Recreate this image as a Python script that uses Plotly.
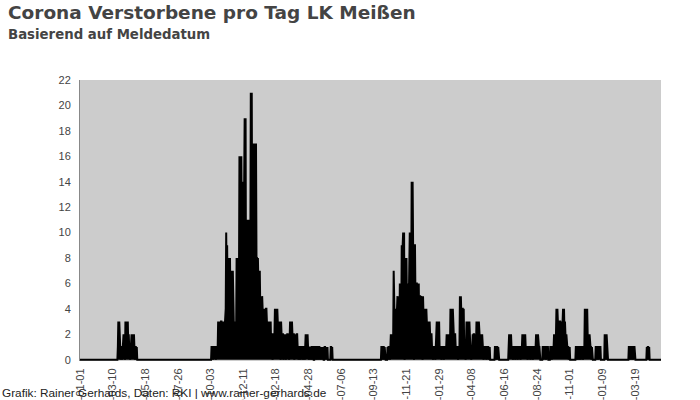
import pandas as pd
import plotly.graph_objects as go

# ---------------- data (daily deaths) ----------------
range_start = "2020-01-01"
range_end = "2023-05-13"

wave_spring2020_start = "2020-03-21"
wave_spring2020 = [1, 3, 2, 3, 1, 1, 0,
                   1, 1, 0, 1, 1, 2, 1, 1, 0,
                   3, 1, 3, 2, 1, 3, 1, 2, 1,
                   1, 0, 1, 1,
                   2, 1, 2, 1, 1, 2, 1,
                   0, 1, 1, 0, 1]

wave_winter2020_start = "2020-10-05"
wave_winter2020 = [1, 1, 1, 0, 1, 1, 1, 1, 1, 0, 1, 1, 1, 1,
                   3, 2, 3, 1, 3, 2, 3, 3, 2, 3, 1, 3, 3, 2, 3, 3,
                   4, 10, 6, 9, 5,
                   8, 5, 8, 6, 8, 4,
                   7, 5, 7, 6, 7, 3,
                   2, 1, 2, 1, 3, 2,
                   8, 5, 8, 3, 8, 6,
                   16, 9, 14, 6, 16, 10,
                   14, 8, 14, 11, 14,
                   19, 6, 19, 2, 11,
                   11, 2, 9, 11, 5, 11, 3, 8,
                   21, 13, 21, 7, 17, 10,
                   17, 8, 17, 6, 14, 17, 8,
                   8, 5, 8, 6,
                   7, 1, 7, 4,
                   5, 2, 1, 5, 3,
                   4, 2, 4, 3, 4, 1, 4, 4,
                   3, 2, 3, 1, 3, 2, 3,
                   2, 3, 1, 2, 2, 0, 2, 1, 2, 2,
                   4, 2, 4, 3, 1, 4, 2,
                   3, 1, 3, 2, 3, 0, 3,
                   2, 1, 2, 2, 0, 1, 2, 1, 2, 0, 2, 1, 2, 2, 1, 2, 0, 2,
                   3, 1, 3, 2, 3,
                   2, 1, 2, 2, 0, 2, 1, 2, 1, 2, 2,
                   1, 1, 0, 1, 1, 1, 0, 1, 1, 1, 1, 0, 1, 1, 1, 0, 1,
                   2, 1, 2, 1, 2, 1,
                   1, 0, 1, 1, 0, 1, 1, 1, 0, 1, 1, 0, 0, 1, 1, 0, 1, 1, 1, 0, 1,
                   0, 1, 1, 0, 1, 1, 0, 1, 0, 1, 1, 0, 0, 1, 1, 0, 1, 0, 1, 1, 0,
                   0, 0, 0, 0, 0,
                   1, 1, 0, 1, 0, 0]

wave_autumn2021_start = "2021-09-29"
wave_autumn2021 = [1, 1, 0, 1, 1, 1, 0, 1,
                   0, 0, 0, 0, 0,
                   1, 0, 1, 1, 1, 0, 1,
                   2, 1, 2, 1, 2,
                   2, 7, 4, 3, 4,
                   3, 4, 2, 4,
                   5, 3, 5, 4, 2,
                   6, 4, 6, 3,
                   9, 5, 9,
                   10, 6, 10, 0, 8,
                   8, 5, 8, 4, 6,
                   6, 2, 6, 4,
                   10, 6, 10, 5,
                   14, 9, 14, 6, 9, 0, 9,
                   9, 5, 6, 6,
                   6, 3, 6, 5, 6, 2, 5,
                   5, 3, 5, 4, 5, 0, 5,
                   4, 2, 4, 3, 4, 1, 4,
                   3, 2, 3, 1, 3, 2, 3,
                   2, 1, 2, 2,
                   1, 1, 0, 1, 1, 1, 1, 0, 1, 1,
                   3, 1, 3, 2, 1, 3, 1,
                   1, 1, 1, 0, 1, 1, 1, 1, 0, 1, 1, 1, 1, 1,
                   2, 1, 2, 1, 2, 1, 2, 1,
                   4, 2, 4, 1, 2, 4, 2,
                   2, 1, 2, 2, 1, 1,
                   1, 1, 1, 0, 1, 1, 1,
                   5, 3, 5, 4, 2, 4,
                   4, 1, 4, 1,
                   1, 1, 0, 1,
                   3, 1, 3, 2, 3, 1, 3,
                   1, 1, 1, 0, 1, 1,
                   2, 1, 2, 2, 1, 2, 2, 1,
                   3, 2, 3, 1, 2, 3, 2,
                   2, 1, 2, 1, 1, 2, 1, 1, 0, 1, 1,
                   1, 1, 1, 0, 1, 1, 1, 1, 0, 1, 1]

wave_may2022_start = "2022-05-27"
wave_may2022 = [1, 1, 0, 1, 1, 1, 0, 1]

wave_summer2022_start = "2022-06-25"
wave_summer2022 = [1, 2, 1, 2, 1, 2, 1,
                   1, 1, 0, 1, 1, 1, 1, 0, 1, 1, 1, 1, 0, 1, 1, 1, 1, 1, 0, 1, 1, 1,
                   2, 1, 2, 1, 2, 1, 2, 1,
                   1, 1, 1, 0, 1, 1, 1, 1, 1, 0, 1, 1, 1, 1, 0, 1, 1, 1, 1, 1, 1,
                   2, 1, 2, 1, 2,
                   1, 1, 1,
                   0, 0, 0, 0, 0, 0,
                   1, 1, 0, 1, 1, 1, 1, 0, 1, 1, 1, 1,
                   0, 0, 0, 0,
                   1, 1, 1, 0, 1, 1, 1, 1,
                   2, 1, 2, 1, 2,
                   4, 2, 4, 3, 1, 3, 2, 3,
                   3, 2, 3, 1, 3, 3,
                   4, 2, 4, 2, 3,
                   2, 1, 2, 1, 1,
                   1, 1, 0, 1, 1]

wave_winter2022_start = "2022-11-14"
wave_winter2022 = [1, 1, 0, 1, 1, 1,
                   0,
                   1, 1, 1, 0, 1, 1, 1, 1, 0, 1, 1, 1,
                   4, 2, 4, 1, 2, 4,
                   2, 1, 2, 1, 2, 1,
                   1, 1, 0, 1,
                   0, 0, 0, 0, 0, 0, 0,
                   1, 1, 0, 1, 1, 1, 0, 1, 1, 1, 1,
                   0, 0, 0, 0, 0, 0, 0, 0,
                   2, 1, 2, 0, 2, 1]

wave_march2023_start = "2023-03-06"
wave_march2023 = [1, 1, 0, 1, 1, 1, 0, 1, 1, 0, 1, 1, 1]

wave_april2023_start = "2023-04-13"
wave_april2023 = [1, 0, 1, 1, 0, 1]

tick_dates = ["2020-01-01", "2020-03-10", "2020-05-18", "2020-07-26", "2020-10-03",
              "2020-12-11", "2021-02-18", "2021-04-28", "2021-07-06", "2021-09-13",
              "2021-11-21", "2022-01-29", "2022-04-08", "2022-06-16", "2022-08-24",
              "2022-11-01", "2023-01-09", "2023-03-19"]
y_ticks = list(range(0, 23, 2))

title_text = "Corona Verstorbene pro Tag LK Meißen"
subtitle_text = "Basierend auf Meldedatum"
footer_text = "Grafik: Rainer Gerhards, Daten: RKI | www.rainer-gerhards.de"

# ---------------- assemble the daily series ----------------
days = pd.date_range(range_start, range_end, freq="D")
series = pd.Series(0, index=days, dtype=float)
for start, vals in [(wave_spring2020_start, wave_spring2020),
                    (wave_winter2020_start, wave_winter2020),
                    (wave_autumn2021_start, wave_autumn2021),
                    (wave_may2022_start, wave_may2022),
                    (wave_summer2022_start, wave_summer2022),
                    (wave_winter2022_start, wave_winter2022),
                    (wave_march2023_start, wave_march2023),
                    (wave_april2023_start, wave_april2023)]:
    idx = pd.date_range(start, periods=len(vals), freq="D")
    series.loc[idx] = vals

fig = go.Figure()
fig.add_trace(go.Scatter(
    x=series.index, y=series.values,
    mode="lines",
    line=dict(color="#000000", width=2),
    fill="tozeroy", fillcolor="#000000",
    hoverinfo="x+y",
))

fig.update_layout(
    template="none",
    width=700, height=400,
    margin=dict(l=80, r=39, t=80, b=39, pad=0),
    paper_bgcolor="#ffffff",
    plot_bgcolor="#cccccc",
    showlegend=False,
    font=dict(family="Liberation Sans, Arial, sans-serif", size=11, color="#444444"),
)
fig.update_xaxes(
    type="date",
    range=[range_start, range_end],
    tickmode="array", tickvals=tick_dates, ticktext=tick_dates,
    tickangle=-90,
    showgrid=False, zeroline=False, showline=False,
    ticks="outside", ticklen=2, tickcolor="rgba(0,0,0,0)",
    tickfont=dict(family="Liberation Sans, Arial, sans-serif", size=11, color="#444444"),
    automargin=False,
)
fig.update_yaxes(
    range=[-0.1, 22],
    tickmode="array", tickvals=y_ticks,
    showgrid=False, zeroline=False,
    showline=True, linecolor="#888888", linewidth=1,
    ticks="outside", ticklen=6, tickcolor="rgba(0,0,0,0)",
    tickfont=dict(family="Liberation Sans, Arial, sans-serif", size=11, color="#444444"),
    automargin=False,
)

fig.add_annotation(text=title_text, xref="paper", yref="paper",
                   x=-0.1276, y=1.239, xanchor="left", yanchor="middle", showarrow=False,
                   font=dict(family="DejaVu Sans", size=18.5, color="#444444", weight="bold"))
fig.add_annotation(text=subtitle_text, xref="paper", yref="paper",
                   x=-0.1276, y=1.161, xanchor="left", yanchor="middle", showarrow=False,
                   font=dict(family="DejaVu Sans", size=13.3, color="#444444", weight="bold"))
fig.add_annotation(text=footer_text, xref="paper", yref="paper",
                   x=-0.137, y=-0.113, xanchor="left", yanchor="middle", showarrow=False,
                   font=dict(family="Liberation Sans, Arial, sans-serif", size=11.8, color="#222222"))

fig.write_html("out.html",
               config={"displayModeBar": False},
               post_script="document.body.style.margin='0';document.body.style.overflow='hidden';")
